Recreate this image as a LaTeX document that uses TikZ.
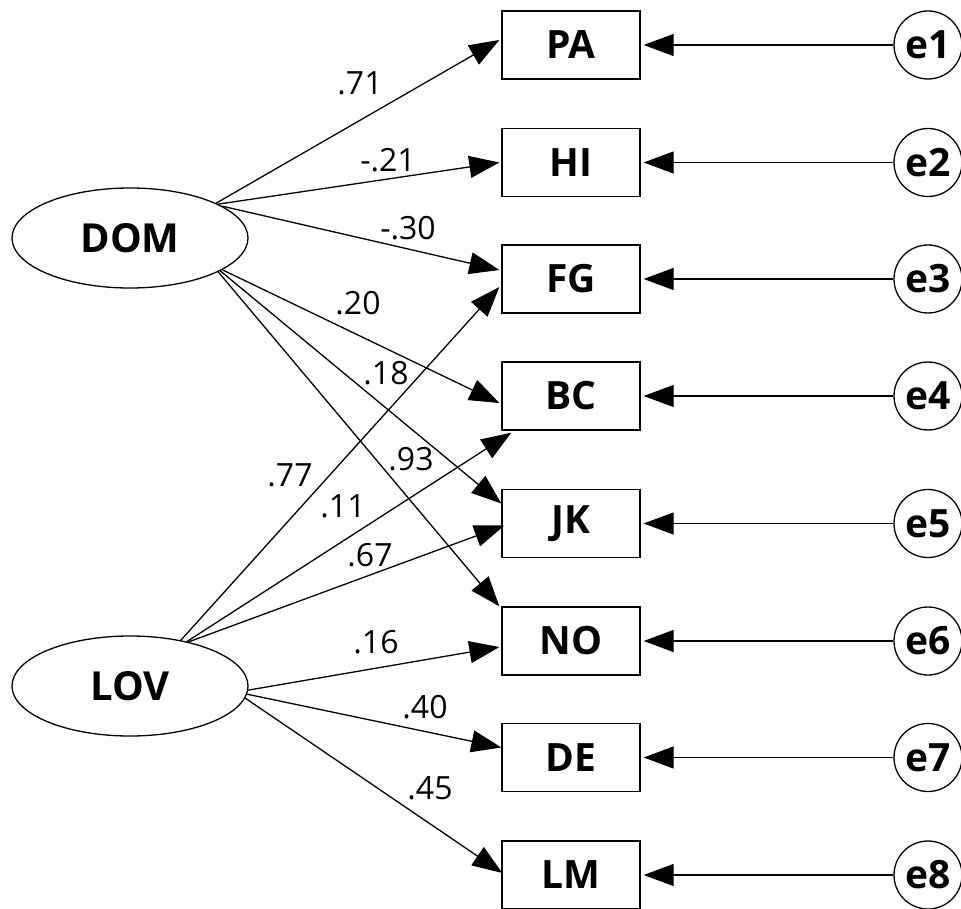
\documentclass[tikz,border=0pt]{standalone}
\usepackage{fontspec}
\setmainfont{Open Sans}
\usetikzlibrary{shapes.geometric,arrows.meta}
\begin{document}
\begin{tikzpicture}[x=1pt,y=-1pt,
  lat/.style={draw,ellipse,line width=1.3pt,minimum width=236pt,minimum height=100pt,inner sep=0pt,font=\fontsize{40}{42}\selectfont\bfseries},
  obs/.style={draw,rectangle,line width=1.3pt,minimum width=138pt,minimum height=68pt,inner sep=0pt,font=\fontsize{39}{41}\selectfont\bfseries},
  err/.style={draw,circle,line width=1.3pt,minimum size=68pt,inner sep=0pt,font=\fontsize{39}{41}\selectfont\bfseries},
  lab/.style={inner sep=0pt,font=\fontsize{32}{34}\selectfont},
  path/.style={line width=1.3pt,-{Triangle[length=30pt,width=22pt]}},
  epath/.style={line width=1.3pt,-{Triangle[length=30pt,width=22pt]},shorten >=3pt}
]
\useasboundingbox (0,0) rectangle (961,909);

\node[lat] (DOM) at (130,238) {DOM};
\node[lat] (LOV) at (130,686) {LOV};

\node[obs] (PA) at (571,45) {PA};
\node[obs] (HI) at (571,162.5) {HI};
\node[obs] (FG) at (571,279) {FG};
\node[obs] (BC) at (571,396) {BC};
\node[obs] (JK) at (571,523.5) {JK};
\node[obs] (NO) at (571,641) {NO};
\node[obs] (DE) at (571,757.5) {DE};
\node[obs] (LM) at (571,875) {LM};

\foreach \n/\y in {1/45,2/162.5,3/279,4/396,5/523.5,6/641,7/757.5,8/875}{
  \node[err] (e\n) at (928,\y) {e\n};
}
\draw[epath] (e1) -- (PA);
\draw[epath] (e2) -- (HI);
\draw[epath] (e3) -- (FG);
\draw[epath] (e4) -- (BC);
\draw[epath] (e5) -- (JK);
\draw[epath] (e6) -- (NO);
\draw[epath] (e7) -- (DE);
\draw[epath] (e8) -- (LM);

% DOM paths
\draw[path] (DOM.22) -- ([xshift=-2pt,yshift=5pt]PA.west);
\draw[path] (DOM.21) -- ([xshift=-2pt]HI.west);
\draw[path] (DOM.19) -- ([xshift=-2pt,yshift=9pt]FG.west);
\draw[path] (DOM.-19) -- ([xshift=-2pt,yshift=-7pt]BC.west);
\draw[path] (DOM.-20) -- ([yshift=20pt]JK.west);
\draw[path] (DOM.-21) -- ([xshift=-2pt]NO.north west);

% LOV paths
\draw[path] (LOV.42) -- ([xshift=-2pt,yshift=-8pt]FG.west);
\draw[path] (LOV.38) -- ([xshift=10pt,yshift=-2pt]BC.south west);
\draw[path] (LOV.37) -- ([xshift=3pt,yshift=-2pt]JK.west);
\draw[path] (LOV.-2) -- ([xshift=-2pt,yshift=-6pt]NO.west);
\draw[path] (LOV.-4) -- ([yshift=10pt]DE.west);
\draw[path] (LOV.-6) -- ([xshift=1pt,yshift=2pt]LM.west);

% labels
\node[lab] (l1) at (360,83) {.71};
\node[lab] (l2) at (388,160) {-.21};
\node[lab] (l3) at (408,228) {-.30};
\node[lab] (l4) at (358,303) {.20};
\node[lab] (l5) at (386,373) {.18};
\node[lab] (l6) at (411,459) {.93};
\node[lab] (l7) at (290,475) {.77};
\node[lab] (l8) at (343,506) {.11};
\node[lab] (l9) at (370,555) {.67};
\node[lab] (l10) at (376,642) {.16};
\node[lab] (l11) at (425,707) {.40};
\node[lab] (l12) at (430,788) {.45};
\end{tikzpicture}
\end{document}
